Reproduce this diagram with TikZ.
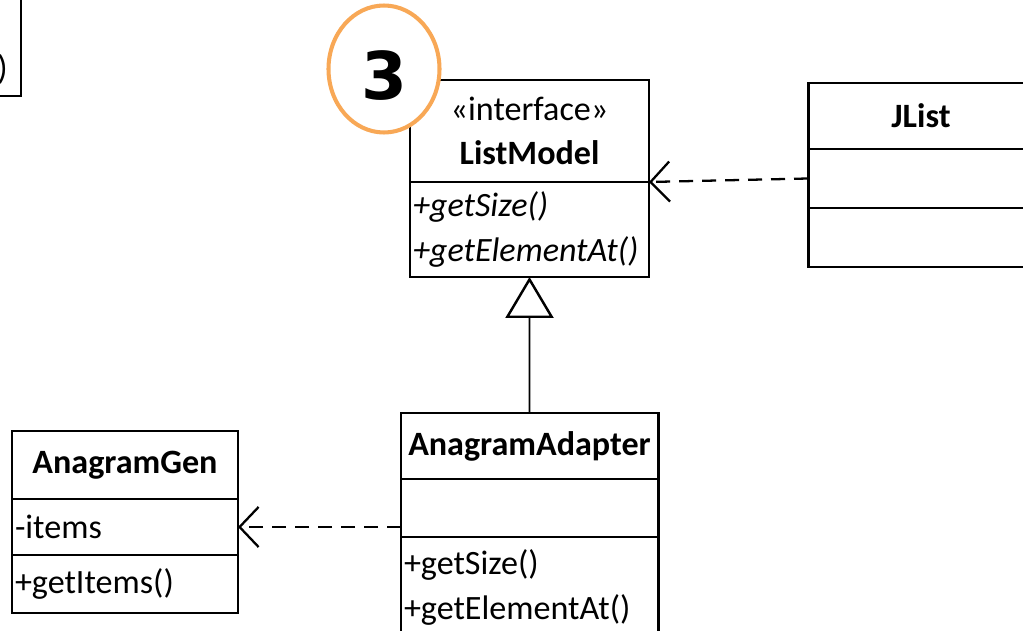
\documentclass[tikz,border=0pt]{standalone}
\usepackage{fontspec}
\setmainfont{Carlito}
\newfontfamily\stepfont{DejaVu Sans}
\usetikzlibrary{arrows.meta, positioning, shapes.geometric}
\definecolor{stepOrange}{RGB}{248,168,86}
\newcommand{\umlfont}{\fontsize{19.4}{25.3}\selectfont}

\begin{document}
\begin{tikzpicture}[
    font=\umlfont,
    umlpart/.style={rectangle, draw=black, line width=1.7pt, inner xsep=0.06cm, inner ysep=0, outer sep=0},
    classname/.style={umlpart, align=center, font=\umlfont\bfseries},
    classbody/.style={umlpart, align=left},
    depend/.style={line width=1.3pt, dash pattern=on 0.28cm off 0.18cm, -{Straight Barb[length=0.38cm, width=0.8cm]}},
    realize/.style={line width=1.1pt, -{Triangle[open, length=0.82cm, width=0.96cm, line width=1.4pt]}},
    stepmark/.style={ellipse, draw=stepOrange, fill=white, line width=2.3pt, minimum width=2.22cm, minimum height=2.54cm, text height=1.24cm, inner sep=0, font=\stepfont\fontsize{37.5}{40}\selectfont\bfseries}
]
    \useasboundingbox (0,0) rectangle (20.46,-12.62);

    % =========================================================
    % CLASS CUT OFF AT THE TOP LEFT
    % =========================================================
    \node[classbody, minimum width=4cm, minimum height=2.2cm, anchor=south east] (cutOps) at (0.42,-1.92) {};
    \node[anchor=east, inner sep=0] (cutText) at (0.16,-1.38) {)};

    % =========================================================
    % INTERFACE AND CLIENT
    % =========================================================
    % ListModel
    \node[classname, text width=4.66cm, minimum height=2.04cm, anchor=north west] (lmName) at (8.20,-1.60) {{\mdseries «interface»}\\ListModel};
    \node[classbody, text width=4.66cm, minimum height=1.90cm, below=0pt of lmName, font=\umlfont\itshape] (lmOps) {+getSize()\\+getElementAt()};

    % JList
    \node[classname, text width=4.40cm, minimum height=1.32cm, anchor=north west] (jlName) at (16.16,-1.66) {JList};
    \node[classbody, text width=4.40cm, minimum height=1.18cm, below=0pt of jlName] (jlAttr) {};
    \node[classbody, text width=4.40cm, minimum height=1.18cm, below=0pt of jlAttr] (jlOps) {};

    % Step marker
    \node[stepmark] (step3) at (7.68,-1.38) {3};

    % =========================================================
    % ADAPTER AND ADAPTEE
    % =========================================================
    % AnagramAdapter
    \node[classname, text width=5.02cm, minimum height=1.32cm, anchor=north west] (adName) at (8.02,-8.26) {AnagramAdapter};
    \node[classbody, text width=5.02cm, minimum height=1.16cm, below=0pt of adName] (adAttr) {};
    \node[classbody, text width=5.02cm, minimum height=2.02cm, below=0pt of adAttr] (adOps) {+getSize()\\+getElementAt()};

    % AnagramGen
    \node[classname, text width=4.40cm, minimum height=1.36cm, anchor=north west] (genName) at (0.24,-8.62) {AnagramGen};
    \node[classbody, text width=4.40cm, minimum height=1.12cm, below=0pt of genName] (genAttr) {-items};
    \node[classbody, text width=4.40cm, minimum height=1.16cm, below=0pt of genAttr] (genOps) {+getItems()};

    % Relations
    \draw[realize] (adName.north) -- (lmOps.south);
    \draw[depend] (jlAttr.west) -- (lmName.south east);
    \draw[depend] (adAttr.west |- genAttr.east) -- (genAttr.east);

\end{tikzpicture}
\end{document}
